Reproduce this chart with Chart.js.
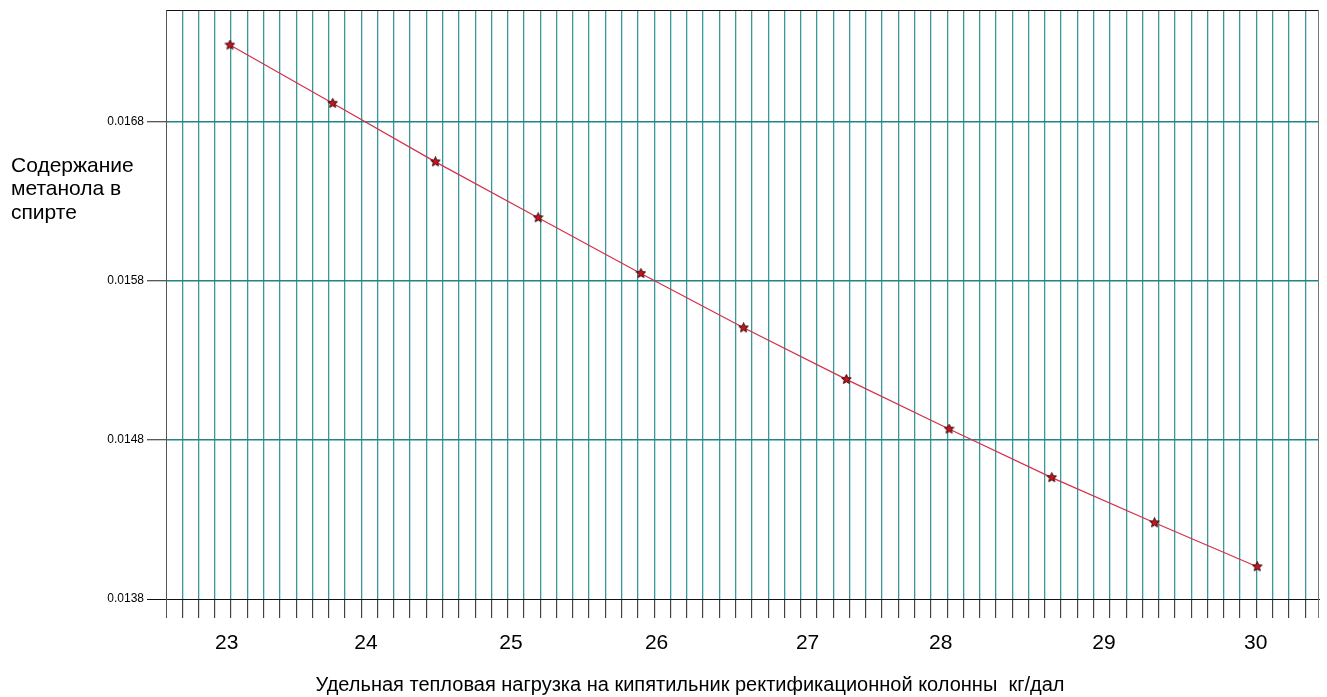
<!DOCTYPE html>
<html>
<head>
<meta charset="utf-8">
<script src="https://cdn.jsdelivr.net/npm/chart.js@4.4.1/dist/chart.umd.min.js"></script>
<style>
  html, body { margin: 0; padding: 0; background: #fff; }
  #wrap { width: 1327px; height: 697px; }
</style>
</head>
<body>
<div id="wrap"><canvas id="c" width="1327" height="697"></canvas></div>
<script>
// Specific heat load on the reboiler (kg/dal) and methanol content in spirit
const heatLoad = [23.0, 23.7, 24.4, 25.1, 25.8, 26.5, 27.2, 27.9, 28.6, 29.3, 30.0];
const methanol = [0.017281, 0.016915, 0.016547, 0.016196, 0.015846, 0.015504,
                  0.015180, 0.014868, 0.014563, 0.014279, 0.014003];

// Axis labelling
const yTickValues = [0.0138, 0.0148, 0.0158, 0.0168];
const xTickLabels = ['23', '24', '25', '26', '27', '28', '29', '30'];
const xTickLabelAt = [22.978, 23.927, 24.915, 25.907, 26.936, 27.843, 28.955, 29.989];

const yTitleLines = ['Содержание', 'метанола в', 'спирте'];
const xTitle = 'Удельная тепловая нагрузка на кипятильник ректификационной колонны  кг/дал';

// Axis ranges and the fine vertical grid
const X_MIN = 22.564, X_MAX = 30.414, X_GRID_STEP = 0.1109;
const Y_MIN = 0.0138, Y_MAX = 0.0175;

const FONT = '"Liberation Sans", Arial, sans-serif';
const TEAL_V = 'rgb(58,152,152)';
const TEAL_H = 'rgb(30,134,134)';

// Small filled star used as the point marker
function makeStar() {
  const c = document.createElement('canvas');
  c.width = 11; c.height = 11;
  const g = c.getContext('2d');
  const cx = 5.5, cy = 5.5, ro = 5, ri = 2.3;
  g.beginPath();
  for (let i = 0; i < 10; i++) {
    const r = i % 2 === 0 ? ro : ri;
    const a = -Math.PI / 2 + i * Math.PI / 5;
    const px = cx + r * Math.cos(a), py = cy + r * Math.sin(a);
    if (i === 0) g.moveTo(px, py); else g.lineTo(px, py);
  }
  g.closePath();
  g.fillStyle = '#c8141e';
  g.fill();
  g.lineWidth = 1;
  g.strokeStyle = '#3a0508';
  g.stroke();
  return c;
}

const points = heatLoad.map((x, i) => ({ x: x, y: methanol[i] }));

// Frame around the plot area
const framePlugin = {
  id: 'frame',
  beforeDatasetsDraw(chart) {
    const { ctx, chartArea: a } = chart;
    ctx.save();
    ctx.lineWidth = 1;
    const line = (x1, y1, x2, y2, col) => {
      ctx.strokeStyle = col;
      ctx.beginPath(); ctx.moveTo(x1, y1); ctx.lineTo(x2, y2); ctx.stroke();
    };
    line(a.left, Math.round(a.top) + 0.5, a.right + 1, Math.round(a.top) + 0.5, '#111');
    line(a.left - 19, Math.round(a.bottom) + 0.5, a.right + 2, Math.round(a.bottom) + 0.5, '#111');
    line(Math.round(a.left) + 0.5, a.top, Math.round(a.left) + 0.5, a.bottom + 19, '#555');
    line(Math.round(a.right) + 0.5, a.top, Math.round(a.right) + 0.5, a.bottom + 19, '#777');
    ctx.restore();
  }
};

// Numeric labels under the x axis, placed through the x scale, and the axis titles
const labelsPlugin = {
  id: 'labels',
  afterDraw(chart) {
    const ctx = chart.ctx;
    const xs = chart.scales.x;
    ctx.save();
    ctx.fillStyle = '#000';
    ctx.font = '21px ' + FONT;
    ctx.textAlign = 'center';
    ctx.textBaseline = 'alphabetic';
    xTickLabelAt.forEach((v, i) => ctx.fillText(xTickLabels[i], xs.getPixelForValue(v), 649));

    ctx.font = '21px ' + FONT;
    ctx.textAlign = 'left';
    yTitleLines.forEach((t, i) => ctx.fillText(t, 11, 171.5 + i * 23.5));

    ctx.font = '20px ' + FONT;
    ctx.textAlign = 'center';
    ctx.fillText(xTitle, 690, 691);
    ctx.restore();
  }
};

new Chart(document.getElementById('c'), {
  type: 'line',
  data: {
    datasets: [{
      data: points,
      borderColor: 'rgb(214,48,72)',
      borderWidth: 1.2,
      tension: 0,
      pointStyle: makeStar(),
      pointRadius: 5,
      fill: false
    }]
  },
  options: {
    responsive: false,
    animation: false,
    devicePixelRatio: 1,
    layout: { padding: { top: 9, right: 9, left: 0, bottom: 0 } },
    plugins: { legend: { display: false }, tooltip: { enabled: false } },
    scales: {
      x: {
        type: 'linear',
        position: 'bottom',
        min: X_MIN,
        max: X_MAX,
        afterBuildTicks(scale) {
          const ticks = [];
          for (let k = 1; X_MIN + k * X_GRID_STEP < X_MAX; k++) {
            ticks.push({ value: X_MIN + k * X_GRID_STEP });
          }
          scale.ticks = ticks;
        },
        afterFit(scale) { scale.height = 98; },
        border: { display: false },
        grid: {
          color: TEAL_V,
          tickColor: '#222',
          lineWidth: 1.3,
          tickWidth: 1,
          tickLength: 19
        },
        ticks: {
          autoSkip: false,
          maxRotation: 0,
          minRotation: 0,
          callback: () => ''
        }
      },
      y: {
        type: 'linear',
        min: Y_MIN,
        max: Y_MAX,
        afterBuildTicks(scale) {
          scale.ticks = yTickValues.map(v => ({ value: v }));
        },
        afterFit(scale) { scale.width = 166; },
        border: { display: false },
        grid: {
          color: c => (c.index === 0 ? '#111' : TEAL_H),
          lineWidth: c => (c.index === 0 ? 1 : 1.5),
          tickColor: '#222',
          tickWidth: 1,
          tickLength: 19
        },
        ticks: {
          padding: 3,
          color: '#000',
          font: { family: FONT, size: 12 },
          callback: v => Number(v).toFixed(4)
        }
      }
    }
  },
  plugins: [framePlugin, labelsPlugin]
});
</script>
</body>
</html>
